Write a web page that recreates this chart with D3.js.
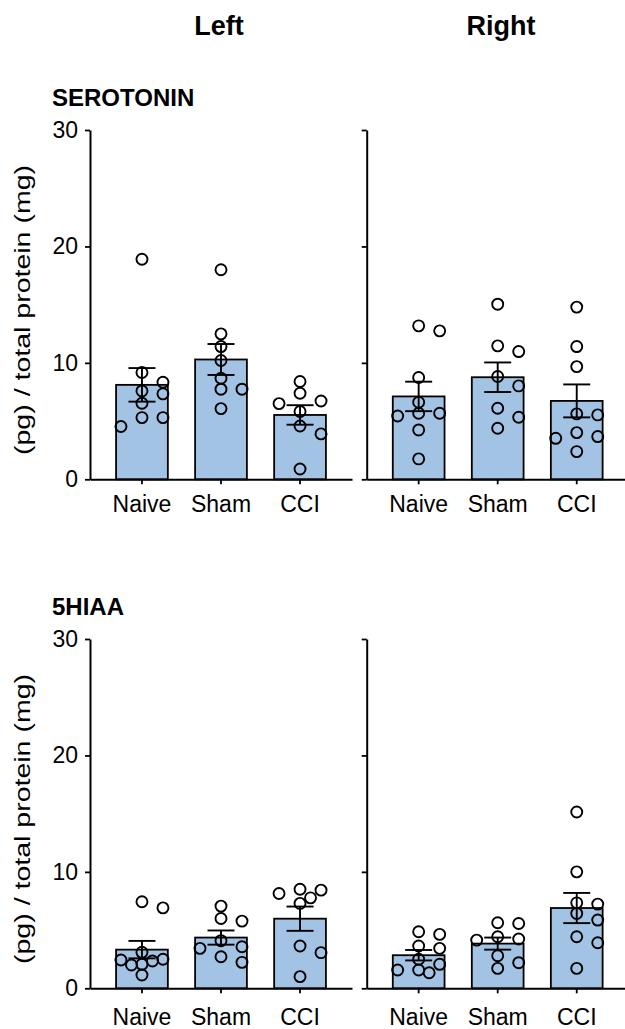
<!DOCTYPE html>
<html>
<head>
<meta charset="utf-8">
<script src="https://cdn.jsdelivr.net/npm/d3@7"></script>
<style>
  body { margin: 0; background: #fff; }
  svg { display: block; font-family: "Liberation Sans", Arial, sans-serif; }
</style>
</head>
<body>
<script>
// groups + tick values
const groups = ["Naive", "Sham", "CCI"];
const sides = ["Left", "Right"];
const analytes = ["SEROTONIN", "5HIAA"];
const yTicks = [0, 10, 20, 30];

// individual points (one array per group)
const serLeftNaive  = [18.9, 9.17, 8.34, 7.59, 7.34, 6.53, 5.3, 5.3, 4.53];
const serLeftSham   = [18.0, 12.49, 11.4, 10.2, 8.68, 7.74, 7.74, 6.07];
const serLeftCCI    = [8.4, 7.39, 6.73, 6.5, 5.82, 4.58, 3.9, 0.89];
const serRightNaive = [13.18, 12.75, 8.74, 6.62, 5.67, 5.67, 5.44, 4.24, 1.75];
const serRightSham  = [15.04, 11.46, 10.97, 8.83, 8.02, 6.1, 5.33, 4.38];
const serRightCCI   = [14.79, 11.4, 9.68, 5.62, 5.53, 4.01, 3.67, 3.52, 2.38];
const hiaaLeftNaive  = [7.43, 6.91, 3.09, 2.49, 2.43, 2.34, 2.06, 2.0, 1.14];
const hiaaLeftSham   = [7.06, 6.0, 5.77, 4.09, 3.57, 3.43, 2.71, 2.23];
const hiaaLeftCCI    = [8.51, 8.43, 8.14, 7.77, 7.29, 3.63, 3.06, 1.0];
const hiaaRightNaive = [4.86, 4.63, 3.63, 3.43, 2.49, 2.06, 1.57, 1.57, 1.34];
const hiaaRightSham  = [5.63, 5.57, 4.43, 4.23, 4.14, 2.8, 2.2, 1.71];
const hiaaRightCCI   = [15.14, 10.0, 7.34, 7.23, 6.43, 5.86, 4.43, 3.91, 1.71];

const panels = [
  [[serLeftNaive, serLeftSham, serLeftCCI], [serRightNaive, serRightSham, serRightCCI]],
  [[hiaaLeftNaive, hiaaLeftSham, hiaaLeftCCI], [hiaaRightNaive, hiaaRightSham, hiaaRightCCI]]
];

const width = 625, height = 1029;
const panelW = 262, panelH = 349.3;
const colX = [90, 366.7];
const rowY = [130, 639];
const xLabelPad = [11, 15];
const barFill = "#a2c3e3";
const r = 5.5;

const svg = d3.select("body").append("svg")
    .attr("width", width)
    .attr("height", height);

const x = d3.scaleBand()
    .domain(groups)
    .range([0, panelW])
    .paddingInner(0.345)
    .paddingOuter(0.33);

const y = d3.scaleLinear()
    .domain([0, 30])
    .range([panelH, 0]);

// column headers
svg.append("text").attr("x", 219).attr("y", 35)
    .attr("text-anchor", "middle").attr("font-size", 27).attr("font-weight", "bold")
    .text(sides[0]);
svg.append("text").attr("x", 501).attr("y", 35)
    .attr("text-anchor", "middle").attr("font-size", 27).attr("font-weight", "bold")
    .text(sides[1]);

// simple swarm so the circles don't sit on top of each other
function swarm(vals) {
  const placed = [];
  const slots = [0, 21, -21, 10.5, -10.5, 31.5, -31.5];
  const sorted = vals.slice().sort((a, b) => b - a);
  sorted.forEach(v => {
    const py = y(v);
    let dx = 0;
    for (const s of slots) {
      const hit = placed.some(p => Math.hypot(p.dx - s, p.py - py) < 2 * r - 0.5);
      if (!hit) { dx = s; break; }
    }
    placed.push({v: v, dx: dx, py: py});
  });
  return placed;
}

panels.forEach((rowData, ri) => {
  // analyte label
  svg.append("text")
      .attr("x", 52).attr("y", rowY[ri] - 24)
      .attr("font-size", 24).attr("font-weight", "bold")
      .text(analytes[ri]);

  // y title
  svg.append("text")
      .attr("transform", "translate(30," + (rowY[ri] + 180) + ") rotate(-90)")
      .attr("text-anchor", "middle")
      .attr("font-size", 22)
      .attr("textLength", 290)
      .attr("lengthAdjust", "spacingAndGlyphs")
      .text("(pg) / total protein (mg)");

  rowData.forEach((groupData, ci) => {
    const g = svg.append("g")
        .attr("transform", "translate(" + colX[ci] + "," + rowY[ri] + ")");

    const stats = groupData.map((vals, i) => ({
      group: groups[i],
      vals: vals,
      mean: d3.mean(vals),
      sem: d3.deviation(vals) / Math.sqrt(vals.length)
    }));

    // bars
    g.selectAll(".bar")
      .data(stats)
      .enter()
      .append("rect")
      .attr("class", "bar")
      .attr("x", d => x(d.group))
      .attr("width", x.bandwidth())
      .attr("y", d => y(d.mean))
      .attr("height", d => panelH - y(d.mean))
      .attr("fill", barFill)
      .attr("stroke", "#000")
      .attr("stroke-width", 1.8);

    // points
    stats.forEach(d => {
      const cx = x(d.group) + x.bandwidth() / 2;
      g.selectAll(null)
        .data(swarm(d.vals))
        .enter()
        .append("circle")
        .attr("cx", p => cx + p.dx)
        .attr("cy", p => p.py)
        .attr("r", r)
        .attr("fill", "none")
        .attr("stroke", "#000")
        .attr("stroke-width", 1.9);
    });

    // error bars (mean +/- SEM)
    const eb = g.selectAll(".err")
      .data(stats)
      .enter()
      .append("g")
      .attr("class", "err")
      .attr("stroke", "#000")
      .attr("stroke-width", 1.9);
    eb.append("line")
      .attr("x1", d => x(d.group) + x.bandwidth() / 2)
      .attr("x2", d => x(d.group) + x.bandwidth() / 2)
      .attr("y1", d => y(d.mean - d.sem))
      .attr("y2", d => y(d.mean + d.sem));
    [1, -1].forEach(sgn => {
      eb.append("line")
        .attr("x1", d => x(d.group) + x.bandwidth() / 2 - 13.5)
        .attr("x2", d => x(d.group) + x.bandwidth() / 2 + 13.5)
        .attr("y1", d => y(d.mean + sgn * d.sem))
        .attr("y2", d => y(d.mean + sgn * d.sem));
    });

    // axes
    const yAxis = g.append("g")
      .call(d3.axisLeft(y).tickValues(yTicks).tickSize(5).tickSizeOuter(0).tickPadding(7)
        .tickFormat(ci == 0 ? d3.format("d") : ""));
    const xAxis = g.append("g")
      .attr("transform", "translate(0," + panelH + ")")
      .call(d3.axisBottom(x).tickSize(5).tickSizeOuter(0).tickPadding(xLabelPad[ri]));

    [yAxis, xAxis].forEach(ax => {
      ax.select(".domain").attr("stroke-width", 2).attr("stroke", "#000");
      ax.selectAll(".tick line").attr("stroke-width", 1.8).attr("stroke", "#000");
      ax.selectAll("text")
        .attr("font-size", 23)
        .attr("font-family", "Liberation Sans, Arial, sans-serif")
        .attr("fill", "#000");
    });
  });
});
</script>
</body>
</html>
